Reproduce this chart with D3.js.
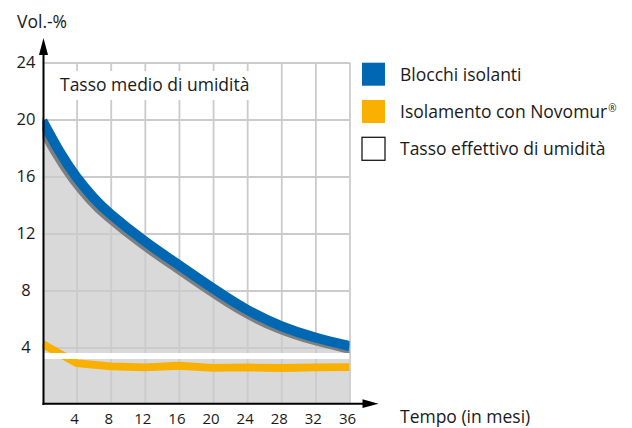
<!DOCTYPE html>
<html><head><meta charset="utf-8">
<script src="https://cdn.jsdelivr.net/npm/d3@7"></script>
<style>
body{margin:0;background:#fff}
svg{display:block}
text{font-family:'Open Sans',sans-serif;fill:#1a1a1a}
</style>
</head><body><svg id="c" width="632" height="428"></svg>
<script>
// ---- data ----
const blueMonths = [0, 2, 4, 6, 8, 12, 16, 20, 24, 28, 32, 36];
const blocchiIsolanti = [19.9, 17.75, 15.95, 14.5, 13.35, 11.45, 9.78, 8.15, 6.65, 5.5, 4.7, 4.1];
const months = [0, 4, 8, 12, 16, 20, 24, 28, 32, 36];
const novomur = [4.25, 2.9, 2.68, 2.6, 2.72, 2.57, 2.6, 2.56, 2.6, 2.62];
const tassoEffettivo = 3.4;
const xTickValues = [4, 8, 12, 16, 20, 24, 28, 32, 36];
const yTickValues = [4, 8, 12, 16, 20, 24];
const legendLabels = ["Blocchi isolanti", "Isolamento con Novomur", "Tasso effettivo di umidità"];
const legendSup = ["", "®", ""];
const legendColors = ["#0068b3", "#f9b000", "#ffffff"];
const yTitle = "Vol.-%";
const xTitle = "Tempo (in mesi)";
const innerTitle = "Tasso medio di umidità";

// ---- layout ----
const svg = d3.select("#c");
const x = d3.scaleLinear().domain([0, 36]).range([42.5, 349.5]);
const y = d3.scaleLinear().domain([0, 24]).range([404.5, 62.5]);
const pw = x(36) - x(0), ph = y(0) - y(24);

svg.append("defs").append("clipPath").attr("id", "plot")
  .append("rect").attr("x", x(0)).attr("y", y(24)).attr("width", pw).attr("height", ph);

const blue = blueMonths.map((m, i) => [m, blocchiIsolanti[i]]);
const orange = months.map((m, i) => [m, novomur[i]]);
const smooth = d3.curveNatural;

const plot = svg.append("g").attr("clip-path", "url(#plot)");

// grey area under the curve
plot.append("path").datum(blue)
  .attr("fill", "#d9d9d9")
  .attr("d", d3.area().x(d => x(d[0])).y0(y(0)).y1(d => y(d[1])).curve(smooth));

// grid
const gx = svg.append("g").attr("transform", `translate(0,${y(0)})`)
  .call(d3.axisBottom(x).tickValues(xTickValues).tickSize(-ph).tickFormat(""));
const gy = svg.append("g").attr("transform", `translate(${x(0)},0)`)
  .call(d3.axisLeft(y).tickValues(yTickValues).tickSize(-pw).tickFormat(""));
[gx, gy].forEach(g => {
  g.select(".domain").remove();
  g.selectAll("line").attr("stroke", "#cbcbcb").attr("stroke-width", 1.8);
});

// white box behind inner title
const titleG = svg.append("g");
const tBg = titleG.append("rect").attr("fill", "#fff");
const tText = titleG.append("text").attr("x", 60).attr("y", 91)
  .attr("font-size", 17.5).text(innerTitle);
const tw = tText.node().getComputedTextLength();
tBg.attr("x", x(0) + 1).attr("y", 71).attr("width", 60 + tw + 5 - x(0)).attr("height", 29);

const plot2 = svg.append("g").attr("clip-path", "url(#plot)");
// shadow under the blue curve
plot2.append("path").datum(blue)
  .attr("transform", "translate(-3,2)")
  .attr("fill", "none").attr("stroke", "#7f7f7f").attr("stroke-width", 10)
  .attr("stroke-linecap", "square")
  .attr("d", d3.line().x(d => x(d[0])).y(d => y(d[1])).curve(smooth));
plot2.append("path").datum(blue)
  .attr("fill", "none").attr("stroke", legendColors[0]).attr("stroke-width", 10)
  .attr("d", d3.line().x(d => x(d[0])).y(d => y(d[1])).curve(smooth));
plot2.append("path").datum(orange)
  .attr("fill", "none").attr("stroke", legendColors[1]).attr("stroke-width", 7.8)
  .attr("stroke-linejoin", "round")
  .attr("d", d3.line().x(d => x(d[0])).y(d => y(d[1])));
plot2.append("line")
  .attr("x1", x(0)).attr("x2", x(36)).attr("y1", y(tassoEffettivo)).attr("y2", y(tassoEffettivo))
  .attr("stroke", "#ffffff").attr("stroke-width", 6);

// axes lines with arrows
const ax = svg.append("g");
ax.append("line").attr("x1", x(0) + 1).attr("x2", x(0) + 1).attr("y1", y(0) + 0.5).attr("y2", 52)
  .attr("stroke", "#000").attr("stroke-width", 2);
ax.append("path").attr("d", `M${x(0) + 1},38 L${x(0) + 5.5},55 L${x(0) - 3.5},55 Z`).attr("fill", "#000");
ax.append("line").attr("x1", x(0)).attr("x2", 365).attr("y1", y(0) - 0.8).attr("y2", y(0) - 0.8)
  .attr("stroke", "#000").attr("stroke-width", 2);
ax.append("path").attr("d", `M378.5,${y(0) - 0.8} L362.5,${y(0) - 5.2} L362.5,${y(0) + 3.6} Z`).attr("fill", "#000");

// tick labels
svg.append("g").selectAll("text").data(xTickValues).join("text")
  .attr("x", d => x(d) - 2).attr("y", 423.5)
  .attr("text-anchor", "middle").attr("font-size", 15)
  .text(d => d);
svg.append("g").selectAll("text").data(yTickValues).join("text")
  .attr("x", 26).attr("y", d => y(d) + 5.8)
  .attr("text-anchor", "middle").attr("font-size", 16.5)
  .text(d => d);

svg.append("text").attr("x", 17).attr("y", 28.3).attr("font-size", 17.5).text(yTitle);
svg.append("text").attr("x", 400).attr("y", 423).attr("font-size", 17.5).text(xTitle);

// legend
const lg = svg.append("g");
legendLabels.forEach((lab, i) => {
  const yy = 62.7 + i * 37.3;
  lg.append("rect").attr("x", 362).attr("y", yy).attr("width", 23).attr("height", 23)
    .attr("fill", legendColors[i])
    .attr("stroke", i === 2 ? "#1a1a1a" : "none").attr("stroke-width", 1.3);
  const t = lg.append("text").attr("x", 400).attr("y", yy + 18).attr("font-size", 17.5).text(lab);
  if (legendSup[i]) {
    t.append("tspan").attr("font-size", 10).attr("dx", 1).attr("dy", -6.5).text(legendSup[i]);
  }
});
</script>
</body></html>
